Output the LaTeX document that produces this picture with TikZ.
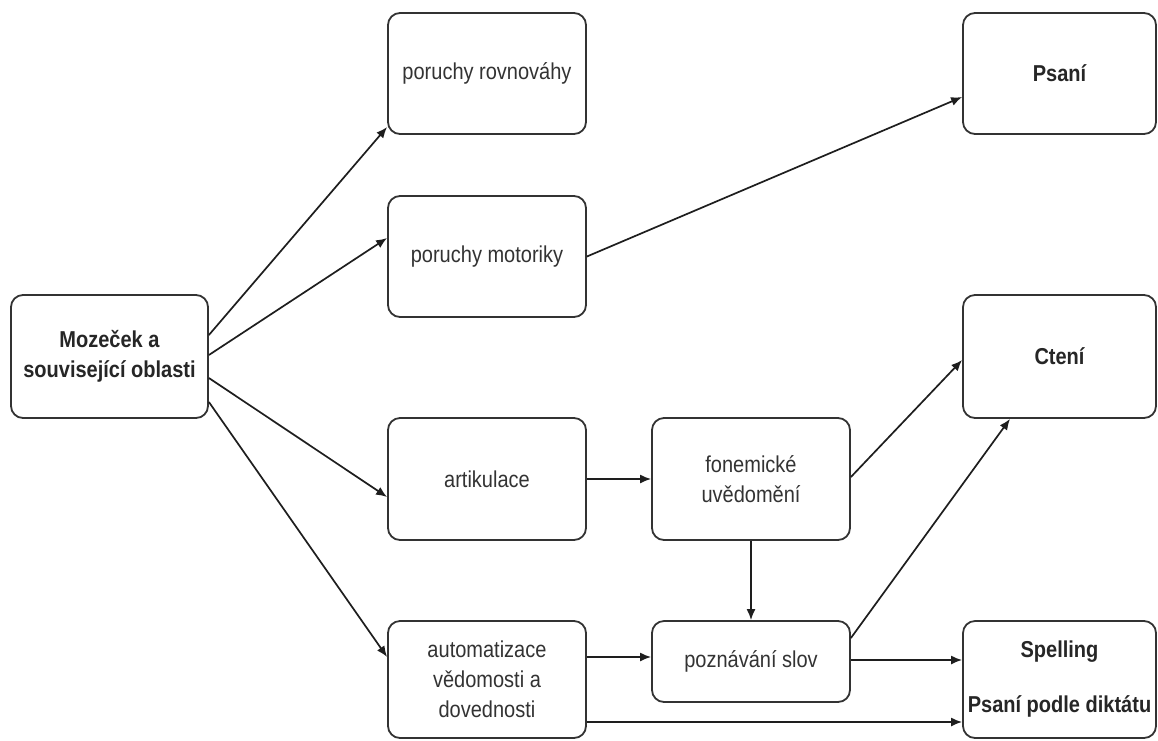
\documentclass[tikz,border=0pt]{standalone}
\usepackage{fontspec}
\setmainfont[FakeStretch=0.87]{Liberation Sans}
\usetikzlibrary{arrows.meta,calc}
\definecolor{boxline}{HTML}{333333}
\definecolor{txt}{HTML}{333333}
\definecolor{arr}{HTML}{1E1E1E}
\tikzset{
  box/.style={draw=boxline, line width=1.8pt, rounded corners=12pt, fill=white,
    inner sep=0pt, align=center, text=txt,
    font=\fontsize{23}{30}\selectfont},
  bbox/.style={box, text=black!85, font=\fontsize{23}{30}\selectfont\bfseries},
  conn/.style={draw=arr, line width=1.7pt, -{Latex[length=11pt,width=9pt]}}
}
\newcommand{\mybox}[7]{% name, style, x1, y1, x2, y2, text
  \node[#2, minimum width={#5-#3}, minimum height={#6-#4}] (#1) at ({(#3+#5)/2},{(#4+#6)/2}) {#7};}
\begin{document}
\begin{tikzpicture}[x=1pt,y=-1pt]
\fill[white] (0,0) rectangle (1158,740);
\useasboundingbox (0,0) rectangle (1158,740);

\mybox{moz}{bbox}{11}{295}{208}{418}{Mozeček a\\související oblasti}
\mybox{rov}{box}{388}{13}{586}{134}{poruchy rovnováhy}
\mybox{mot}{box}{388}{196}{586}{317}{poruchy motoriky}
\mybox{psa}{bbox}{963}{13}{1156}{134}{Psaní}
\mybox{art}{box}{388}{418}{586}{540}{artikulace}
\mybox{fon}{box}{652}{418}{850}{540}{fonemické\\uvědomění}
\mybox{cte}{bbox}{963}{295}{1156}{418}{Ctení}
\mybox{aut}{box}{388}{621}{586}{738}{automatizace\\vědomosti a\\dovednosti}
\mybox{poz}{box}{652}{621}{850}{702}{poznávání slov}
\mybox{spe}{bbox}{963}{621}{1156}{738}{Spelling\\[25pt]Psaní podle diktátu}

% from Mozeček
\draw[conn] ([yshift=21.5pt]moz.east) -- ([yshift=-53.5pt]rov.west);
\draw[conn] ([yshift=1.5pt]moz.east) -- ([yshift=18.5pt]mot.west);
\draw[conn] ([yshift=-21.5pt]moz.east) -- ([yshift=-18pt]art.west);
\draw[conn] ([yshift=-45.5pt]moz.east) -- ([yshift=22.5pt]aut.west);

% motorika -> Psaní
\draw[conn] (mot.east) -- ([yshift=-23.5pt]psa.west);

% artikulace -> fonemické
\draw[conn] (art.east) -- (fon.west);
% fonemické -> poznávání
\draw[conn] (fon.south) -- (poz.north);
% fonemické -> Ctení
\draw[conn] ([yshift=2pt]fon.east) -- ([yshift=-3.5pt]cte.west);
% poznávání -> Ctení
\draw[conn] ([yshift=23.5pt]poz.east) -- ([xshift=-49.5pt]cte.south);
% poznávání -> Spelling
\draw[conn] ([yshift=1.5pt]poz.east) -- ([yshift=1.5pt]poz.east -| spe.west);
% automatizace -> poznávání
\draw[conn] ([yshift=22.5pt]aut.east) -- ([yshift=22.5pt]aut.east -| poz.west);
% automatizace -> Spelling
\draw[conn] ([yshift=-42.5pt]aut.east) -- ([yshift=-42.5pt]aut.east -| spe.west);
\end{tikzpicture}
\end{document}
